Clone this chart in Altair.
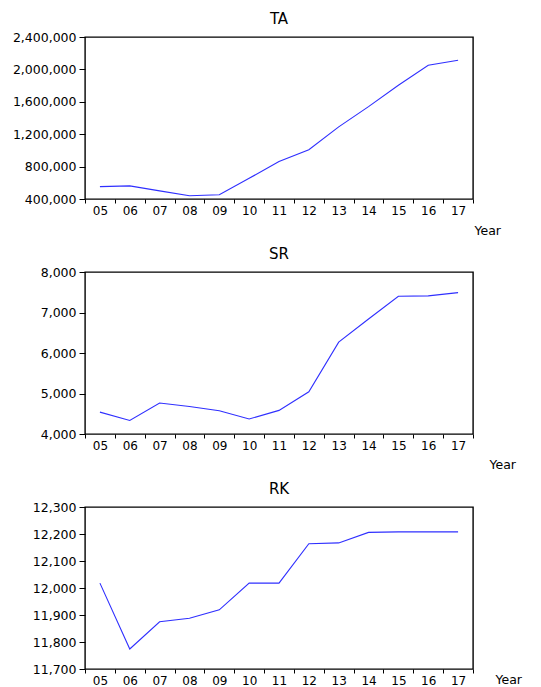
import altair as alt
import pandas as pd

years = ["05", "06", "07", "08", "09", "10", "11", "12", "13", "14", "15", "16", "17"]
ta = [553000, 562000, 500000, 440000, 452000, 655000, 862000, 1008000, 1290000, 1540000, 1805000, 2052000, 2112000]
sr = [4540, 4335, 4765, 4680, 4575, 4370, 4583, 5043, 6267, 6840, 7400, 7410, 7490]
rk = [12018, 11774, 11875, 11888, 11919, 12018, 12018, 12164, 12167, 12206, 12208, 12208, 12208]

FONT = "DejaVu Sans"
LINE = "#2f2fff"


def panel(vals, name, lo, hi, step, tx, ty):
    df = pd.DataFrame({"Year": years, "v": vals})
    ticks = list(range(lo, hi + 1, step))
    return (
        alt.Chart(df, title=alt.Title(name))
        .mark_line(color=LINE, strokeWidth=1.1)
        .encode(
            x=alt.X(
                "Year:O",
                sort=years,
                bandPosition=0.5,
                scale=alt.Scale(type="band", paddingInner=0, paddingOuter=0),
                axis=alt.Axis(
                    title="Year",
                    tickBand="extent",
                    labelAngle=0,
                    tickSize=4,
                    labelPadding=2,
                    labelFontSize=12,
                    titleX=tx,
                    titleY=ty,
                    titleAlign="left",
                    titleBaseline="middle",
                    titleAngle=0,
                ),
            ),
            y=alt.Y(
                "v:Q",
                scale=alt.Scale(domain=[lo, hi], nice=False, zero=False),
                axis=alt.Axis(values=ticks, format=",d", title=None, tickSize=6,
                              labelPadding=3, minExtent=76, maxExtent=76),
            ),
        )
        .properties(width=388, height=162)
    )


p1 = panel(ta, "TA", 400000, 2400000, 400000, 389, 31)
p2 = panel(sr, "SR", 4000, 8000, 1000, 404, 30)
p3 = panel(rk, "RK", 11700, 12300, 100, 410, 10)

chart = (
    alt.vconcat(p1, p2, p3, spacing=73, bounds="flush")
    .properties(padding={"left": 0, "top": 3, "right": 0, "bottom": 0})
    .configure_view(stroke="#000000", strokeWidth=1.4)
    .configure_axis(
        domain=False,
        grid=False,
        labelFont=FONT,
        labelFontSize=12.5,
        labelColor="#000000",
        tickColor="#000000",
        titleFont=FONT,
        titleFontSize=12.5,
        titleFontWeight="normal",
        titleColor="#000000",
    )
    .configure_title(font=FONT, fontSize=15, fontWeight="normal", color="#000000", offset=4, anchor="middle")
)

chart.save("out.html", embed_options={"renderer": "svg", "actions": False})
